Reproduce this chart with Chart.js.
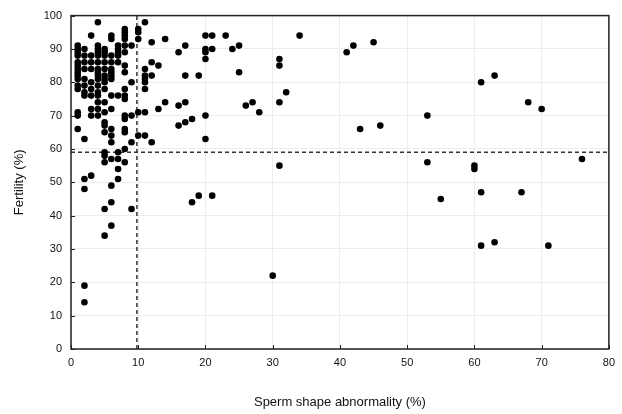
<!DOCTYPE html>
<html lang="en">
<head>
    <meta charset="UTF-8">
    <title>Fertility vs sperm shape abnormality</title>
    <script src="https://cdn.jsdelivr.net/npm/chart.js"></script>
    <style>
        body { margin: 0; padding: 0; background: #fff; }
        .container { width: 622px; height: 414px; }
    </style>
</head>
<body>
    <div class="container">
        <canvas id="chart" width="622" height="414"></canvas>
    </div>

    <script>
        // Sperm shape abnormality (%) and fertility (%) per bull
        const abnormality = [
            1,1,1,1,1,1,1,1,1,1,1,1,1,1,1,
            2,2,2,2,2,2,2,2,2,2,2,2,2,
            3,3,3,3,3,3,3,3,3,3,
            4,4,4,4,4,4,4,4,4,4,4,4,4,4,4,4,
            5,5,5,5,5,5,5,5,5,5,5,5,5,5,5,5,5,5,5,
            6,6,6,6,6,6,6,6,6,6,6,6,6,6,6,6,6,
            7,7,7,7,7,7,7,7,7,7,
            8,8,8,8,8,8,8,8,8,8,8,8,8,8,8,8,8,
            9,9,9,9,9,
            10,10,10,10,10,
            11,11,11,11,11,11,11,11,
            12,12,12,12,
            13,13, 14,14, 16,16,16, 17,17,17,17, 18,18, 19,19,
            20,20,20,20,20,20, 21,21,21, 23, 24, 25,25, 26, 27, 28, 30,
            31,31,31,31, 32, 34, 41, 42, 43, 45, 46, 53,53, 55, 60,60,
            61,61,61, 63,63, 67, 68, 70, 71, 76
        ];
        const fertility = [
            91,90,89,88,86,85,84,83,82,81,79,78,71,70,66,
            90,88,86,84,81,79,77,76,63,51,48,19,14,
            94,88,86,84,80,78,76,72,70,52,
            98,91,90,89,88,86,84,83,82,81,79,77,76,74,72,70,
            90,89,88,86,84,82,81,80,78,74,71,68,67,65,59,58,56,42,34,
            94,93,88,86,84,83,82,81,76,72,66,64,62,57,49,44,37,
            91,90,89,88,86,76,59,57,54,51,
            96,95,94,93,91,89,85,83,78,76,75,70,69,66,65,60,56,
            91,80,70,62,42,
            96,95,93,71,64,
            98,84,82,81,80,78,71,64,
            92,86,82,62,
            85,72, 93,74, 89,73,67, 91,82,74,68, 69,44, 82,46,
            94,90,89,87,70,63, 94,90,46, 94, 90, 91,83, 73, 74, 71, 22,
            87,85,74,55, 77, 94, 89, 91, 66, 92, 67, 70,56, 45, 55,54,
            80,47,31, 82,32, 47, 74, 72, 31, 57
        ];

        // threshold lines
        const abnormalityCut = 9.8;
        const fertilityCut = 59;

        const xTicks = [0, 10, 20, 30, 40, 50, 60, 70, 80];
        const yTicks = [0, 10, 20, 30, 40, 50, 60, 70, 80, 90, 100];

        const points = abnormality.map((x, i) => ({ x: x, y: fertility[i] }));

        // plot frame with small inward tick marks
        const frame = {
            id: 'frame',
            afterDatasetsDraw(chart) {
                const { ctx, chartArea: a, scales } = chart;
                ctx.save();
                ctx.strokeStyle = '#222';
                ctx.lineWidth = 1.5;
                ctx.strokeRect(a.left, a.top, a.right - a.left, a.bottom - a.top);
                ctx.lineWidth = 1;
                ctx.beginPath();
                xTicks.forEach(v => {
                    const px = Math.round(scales.x.getPixelForValue(v)) + 0.5;
                    ctx.moveTo(px, a.bottom);
                    ctx.lineTo(px, a.bottom - 4);
                });
                yTicks.forEach(v => {
                    const py = Math.round(scales.y.getPixelForValue(v)) + 0.5;
                    ctx.moveTo(a.left, py);
                    ctx.lineTo(a.left + 4, py);
                });
                ctx.stroke();
                ctx.restore();
            }
        };

        const font = { family: 'Liberation Sans, Arial, sans-serif', size: 11 };

        new Chart(document.getElementById('chart'), {
            type: 'scatter',
            data: {
                datasets: [
                    {
                        data: points,
                        backgroundColor: '#000',
                        borderWidth: 0,
                        pointRadius: 3.3,
                        pointHoverRadius: 3.3
                    },
                    {
                        type: 'line',
                        data: [{ x: abnormalityCut, y: 0 }, { x: abnormalityCut, y: 100 }],
                        borderColor: '#333',
                        borderWidth: 1.5,
                        borderDash: [4, 3],
                        pointRadius: 0
                    },
                    {
                        type: 'line',
                        data: [{ x: 0, y: fertilityCut }, { x: 80, y: fertilityCut }],
                        borderColor: '#333',
                        borderWidth: 1.5,
                        borderDash: [4, 3],
                        pointRadius: 0
                    }
                ]
            },
            options: {
                responsive: false,
                animation: false,
                layout: { padding: { top: 15, right: 9, left: 0, bottom: 0 } },
                plugins: {
                    legend: { display: false },
                    tooltip: { enabled: false }
                },
                scales: {
                    x: {
                        type: 'linear',
                        min: 0,
                        max: 80,
                        afterBuildTicks: s => { s.ticks = xTicks.map(v => ({ value: v })); },
                        afterFit: s => { s.height = 65; },
                        grid: { color: '#ececec', lineWidth: 1, drawTicks: false },
                        border: { display: false },
                        ticks: { color: '#111', font: font, padding: 7, maxRotation: 0 },
                        title: {
                            display: true,
                            text: 'Sperm shape abnormality (%)',
                            color: '#111',
                            font: { family: font.family, size: 13 },
                            padding: { top: 14 }
                        }
                    },
                    y: {
                        min: 0,
                        max: 100,
                        afterBuildTicks: s => { s.ticks = yTicks.map(v => ({ value: v })); },
                        afterFit: s => { s.width = 71; },
                        grid: { color: '#ececec', lineWidth: 1, drawTicks: false },
                        border: { display: false },
                        ticks: { color: '#111', font: font, padding: 9 },
                        title: {
                            display: true,
                            text: 'Fertility (%)',
                            color: '#111',
                            font: { family: font.family, size: 13 },
                            padding: { top: 12, bottom: 10 }
                        }
                    }
                }
            },
            plugins: [frame]
        });
    </script>
</body>
</html>
